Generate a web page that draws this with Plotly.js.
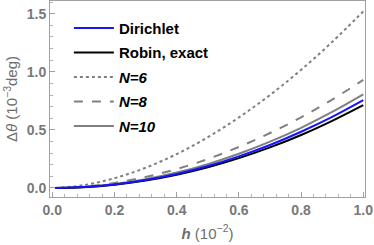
<!DOCTYPE html>
<html><head><meta charset="utf-8">
<script src="https://cdn.plot.ly/plotly-3.0.1.min.js"></script>
<style>html,body{margin:0;padding:0;background:#fff}#c{width:374px;height:245px}</style>
</head><body><div id="c"></div>
<script>
const h = [0.01, 0.1, 0.2, 0.3, 0.4, 0.5, 0.6, 0.7, 0.8, 0.9, 1.0];
const dirichlet = [0.0001, 0.0076, 0.0302, 0.068, 0.121, 0.189, 0.272, 0.370, 0.484, 0.612, 0.756];
const robin     = [0.0001, 0.0071, 0.0285, 0.064, 0.114, 0.178, 0.257, 0.349, 0.456, 0.578, 0.713];
const n6        = [0.0003, 0.024, 0.084, 0.174, 0.292, 0.437, 0.607, 0.800, 1.017, 1.257, 1.52];
const n8        = [0.0002, 0.0117, 0.0437, 0.0945, 0.163, 0.249, 0.353, 0.473, 0.608, 0.761, 0.93];
const n10       = [0.0001, 0.0086, 0.0337, 0.0751, 0.1325, 0.2055, 0.2946, 0.3986, 0.518, 0.654, 0.805];
const names = ['Dirichlet', 'Robin, exact', '<i>N=6</i>', '<i>N=8</i>', '<i>N=10</i>'];
const xTicks = [0, 0.2, 0.4, 0.6, 0.8, 1.0];
const xTickText = ['0.0', '0.2', '0.4', '0.6', '0.8', '1.0'];
const yTicks = [0, 0.5, 1.0, 1.5];
const yTickText = ['0.0', '0.5', '1.0', '1.5'];

const gray = 'rgb(128,128,128)';
function tr(y, name, color, dash, rank) {
  return {x: h, y: y, name: name, mode: 'lines', type: 'scatter',
    line: {color: color, width: 2, dash: dash, shape: 'spline'},
    legendrank: rank, legendgroup: 'g' + rank};
}
const data = [
  tr(n6, names[2], gray, 'dot', 3),
  tr(n8, names[3], gray, 'dash', 4),
  tr(n10, names[4], gray, 'solid', 5),
  tr(robin, names[1], 'black', 'solid', 2),
  tr(dirichlet, names[0], 'rgb(20,20,255)', 'solid', 1)
];
const FF = 'Liberation Sans, Arial, sans-serif';
const tickFont = {family: FF, size: 14, color: 'rgb(120,120,120)', weight: 'bold'};
const layout = {
  width: 374, height: 245,
  margin: {l: 50, r: 9, t: 1, b: 48},
  paper_bgcolor: '#fff', plot_bgcolor: '#fff',
  showlegend: true,
  legend: {x: 0.06, y: 0.945, xanchor: 'left', yanchor: 'top', bgcolor: 'rgba(0,0,0,0)',
    font: {family: FF, size: 15, color: 'black', weight: 'bold'},
    tracegroupgap: 2, itemwidth: 40, traceorder: 'grouped'},
  xaxis: {range: [-0.0074, 1.0055], tickvals: xTicks, ticktext: xTickText,
    showgrid: false, zeroline: false, showline: true, mirror: true, linecolor: 'rgb(160,160,160)', linewidth: 1,
    ticks: 'inside', ticklen: 5, tickcolor: 'rgb(160,160,160)',
    minor: {dtick: 0.04, tick0: 0, ticks: 'inside', ticklen: 3, tickcolor: 'rgb(180,180,180)'},
    tickfont: tickFont,
    title: {text: '<b><i>h</i></b> (10<sup>−2</sup>)', font: {family: FF, size: 15, color: 'rgb(110,110,110)'}, standoff: 11}},
  yaxis: {range: [-0.0776, 1.609], tickvals: yTicks, ticktext: yTickText,
    showgrid: false, zeroline: false, showline: true, mirror: true, linecolor: 'rgb(160,160,160)', linewidth: 1,
    ticks: 'inside', ticklen: 5, tickcolor: 'rgb(160,160,160)',
    minor: {dtick: 0.1, tick0: 0, ticks: 'inside', ticklen: 3, tickcolor: 'rgb(180,180,180)'},
    tickfont: tickFont,
    title: {text: 'Δ<i>θ</i> (10<sup>−3</sup>deg)', font: {family: FF, size: 15, color: 'rgb(110,110,110)'}, standoff: 5}}
};
Plotly.newPlot('c', data, layout, {displayModeBar: false, staticPlot: true});
</script></body></html>
